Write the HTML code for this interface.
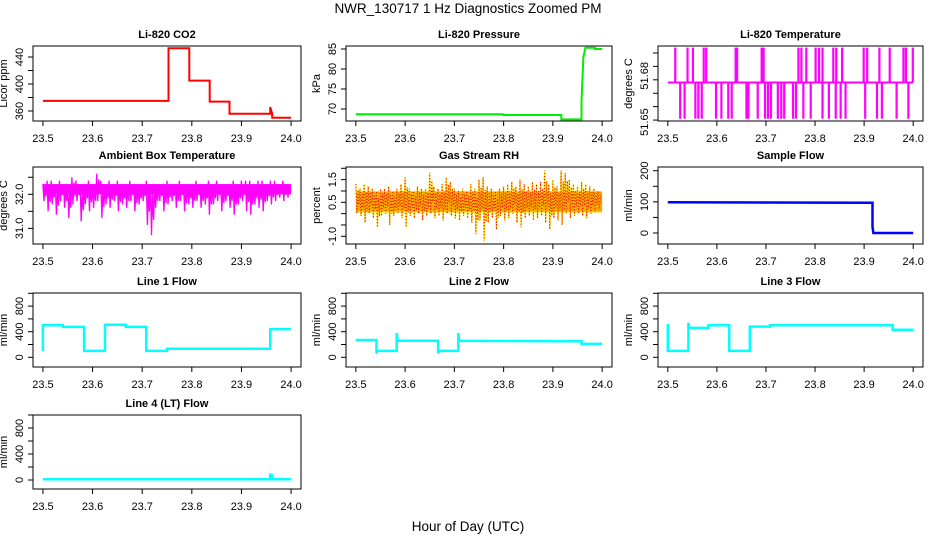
<!DOCTYPE html>
<html><head><meta charset="utf-8">
<style>
html,body{margin:0;padding:0;background:#fff;}
svg{display:block;font-family:"Liberation Sans",Arial,sans-serif;}
</style></head>
<body>
<svg id="chart" width="936" height="540" viewBox="0 0 936 540">
<rect x="0" y="0" width="936" height="540" fill="#fff"/>
<text x="468" y="13" text-anchor="middle" font-size="13.5">NWR_130717  1 Hz Diagnostics Zoomed PM</text>
<text x="468" y="531" text-anchor="middle" font-size="13.5">Hour of Day (UTC)</text>
</svg>
<script>
// ---------- data ----------
const xTicks = [23.5, 23.6, 23.7, 23.8, 23.9, 24.0];
const xTickLabels = ["23.5","23.6","23.7","23.8","23.9","24.0"];

const co2T = [23.5, 23.753, 23.753, 23.795, 23.795, 23.836, 23.836, 23.876, 23.876, 23.958, 23.958, 23.962, 23.962, 24.0];
const co2V = [375, 375, 453, 453, 405, 405, 374, 374, 356, 356, 366, 356, 350, 350];

const presT = [23.5, 23.8, 23.8, 23.917, 23.917, 23.958, 23.958, 23.962, 23.966, 23.985, 23.985, 24.0];
const presV = [68.7, 68.7, 68.5, 68.5, 67.4, 67.4, 72, 83, 85.3, 85.3, 85.0, 85.0];

const ltBase = 51.678;
const ltTop = 51.704;
const ltBot = 51.651;
const ltUpT = [23.515,23.540,23.551,23.573,23.578,23.638,23.641,23.691,23.695,23.766,23.772,23.782,23.801,23.808,23.815,23.837,23.843,23.855,23.899,23.906,23.931,23.952,23.980,23.985,23.999];
const ltDownT = [23.525,23.534,23.556,23.562,23.569,23.598,23.609,23.623,23.630,23.660,23.664,23.683,23.698,23.704,23.710,23.724,23.731,23.737,23.755,23.761,23.776,23.791,23.815,23.828,23.842,23.852,23.862,23.902,23.926,23.936,23.966,23.990];

const ambHi = [32.3,32.4,32.4,32.3,32.4,32.3,32.3,32.5,32.4,32.3,32.3,32.4,32.3,32.6,32.4,32.3,32.4,32.3,32.4,32.3,32.3,32.4,32.3,32.3,32.3,32.4,32.3,32.3,32.3,32.3,32.4,32.3,32.3,32.4,32.3,32.3,32.3,32.4,32.3,32.3,32.4,32.3,32.4,32.3,32.3,32.3,32.4,32.3,32.4,32.4,32.4,32.3,32.4,32.4,32.3,32.4,32.4,32.3,32.4,32.3];
const ambLo = [31.8,31.5,31.7,31.4,31.8,31.6,31.3,31.7,31.8,31.2,31.7,31.5,31.6,31.8,31.3,31.7,31.6,31.8,31.5,31.7,31.6,31.8,31.5,31.7,31.8,31.1,30.8,31.6,31.8,31.5,31.7,31.8,31.6,31.8,31.5,31.7,31.6,31.8,31.6,31.7,31.4,31.7,31.8,31.5,31.8,31.6,31.4,31.7,31.8,31.5,31.4,31.7,31.6,31.5,31.8,31.7,31.8,31.9,31.8,31.9];

const rhHi = [1.3,1.1,1.3,1.2,1.1,1.0,1.1,1.1,1.2,1.0,1.1,1.3,1.6,1.1,1.0,1.2,1.1,1.1,1.8,1.2,1.1,1.3,1.6,1.4,1.1,1.0,1.1,1.0,1.3,1.1,1.5,1.6,1.2,1.1,1.0,1.1,1.2,1.3,1.4,1.2,1.5,1.3,1.2,1.4,1.3,1.4,1.9,1.3,1.5,1.2,1.9,1.8,1.5,1.3,1.2,1.4,1.3,1.2,1.1,1.0];
const rhLo = [0.0,-0.1,-0.4,0.0,-0.2,-0.6,-0.1,0.0,-0.5,-0.1,0.0,-0.2,-0.6,-0.1,-0.2,0.0,-0.3,-0.1,0.0,-0.2,-0.1,-0.3,0.0,-0.1,-0.2,-0.3,-0.1,-0.2,-0.4,-0.9,-0.3,-1.2,-0.4,-0.2,-0.7,-0.1,-0.3,-0.2,0.0,-0.4,-0.6,-0.2,-0.1,-0.3,-0.2,-0.1,-0.4,-0.7,-0.2,-0.3,-0.5,0.0,-0.2,-0.1,0.0,-0.1,-0.2,0.0,0.1,0.2];

const sampT = [23.5, 23.917, 23.917, 23.919, 24.0];
const sampV = [99, 97, 20, 0, 0];

const l1T = [23.5, 23.5, 23.54, 23.54, 23.583, 23.583, 23.625, 23.625, 23.667, 23.667, 23.708, 23.708, 23.75, 23.75, 23.958, 23.958, 24.0];
const l1V = [100, 500, 500, 475, 475, 100, 100, 510, 510, 475, 475, 100, 100, 135, 135, 440, 440];

const l2T = [23.5, 23.542, 23.542, 23.543, 23.583, 23.583, 23.585, 23.667, 23.667, 23.668, 23.708, 23.708, 23.71, 23.958, 23.958, 24.0];
const l2V = [270, 270, 60, 100, 100, 380, 260, 260, 60, 100, 100, 380, 260, 250, 210, 210];

const l3T = [23.5, 23.5, 23.542, 23.542, 23.544, 23.583, 23.583, 23.625, 23.625, 23.667, 23.667, 23.708, 23.708, 23.958, 23.958, 24.0];
const l3V = [520, 100, 100, 540, 460, 460, 500, 500, 100, 100, 480, 480, 500, 500, 430, 430];

const l4T = [23.5, 23.958, 23.958, 23.961, 23.961, 24.0];
const l4V = [10, 10, 80, 80, 10, 10];

// ---------- layout ----------
const NS = "http://www.w3.org/2000/svg";
const svg = document.getElementById("chart");
const cols = [[33,301],[346,612],[658,923]];
const rows = [[46,121],[167,244],[293,367],[415,489]];
const XMIN = 23.48, XMAX = 24.02;

function mk(tag, attrs, parent){
  const e = document.createElementNS(NS, tag);
  for (const k in attrs) e.setAttribute(k, attrs[k]);
  (parent||svg).appendChild(e);
  return e;
}

function panel(name, title, ytitle, col, row, yTop, yBot, yTicks, yLabels){
  const [x0,x1] = cols[col], [y0,y1] = rows[row];
  const g = mk("g", {});
  
  
  const sx = v => x0 + (v - XMIN) / (XMAX - XMIN) * (x1 - x0);
  const sy = v => y0 + (yTop - v) / (yTop - yBot) * (y1 - y0);
  const t = mk("text", {x:(x0+x1)/2, y:y0-8, "text-anchor":"middle", "font-size":"11", "font-weight":"bold"}, g);
  t.textContent = title;
  
  
  const box = mk("rect", {x:x0, y:y0, width:x1-x0, height:y1-y0, fill:"none", stroke:"#000", "stroke-width":"1"}, g);
  
  
  const xa = mk("g", {}, g);
  
  
  mk("line", {x1:sx(xTicks[0]), x2:sx(xTicks[xTicks.length-1]), y1:y1, y2:y1, stroke:"#000"}, xa);
  xTicks.forEach((v,i) => {
    mk("line", {x1:sx(v), x2:sx(v), y1:y1, y2:y1+5, stroke:"#000"}, xa);
    const l = mk("text", {x:sx(v), y:y1+21, "text-anchor":"middle", "font-size":"11"}, xa);
    l.textContent = xTickLabels[i];
    
    
  });
  const ya = mk("g", {}, g);
  
  
  mk("line", {x1:x0, x2:x0, y1:sy(yTicks[0]), y2:sy(yTicks[yTicks.length-1]), stroke:"#000"}, ya);
  yTicks.forEach(v => mk("line", {x1:x0-5, x2:x0, y1:sy(v), y2:sy(v), stroke:"#000"}, ya));
  yLabels.forEach(([v,s,off]) => {
    const yy = sy(v) + (off||0);
    const l = mk("text", {x:x0-10, y:yy, "text-anchor":"middle", "font-size":"11", transform:`rotate(-90 ${x0-10} ${yy})`}, ya);
    l.textContent = s;
    
    
  });
  const yt = mk("text", {x:x0-26, y:(y0+y1)/2, "text-anchor":"middle", "font-size":"11", transform:`rotate(-90 ${x0-26} ${(y0+y1)/2})`}, ya);
  yt.textContent = ytitle;
  
  
  return {g, sx, sy};
}

function line(p, T, V, color, w, name){
  const pts = T.map((t,i) => p.sx(t).toFixed(1) + "," + p.sy(V[i]).toFixed(1)).join(" ");
  const e = mk("polyline", {points:pts, fill:"none", stroke:color, "stroke-width":w}, p.g);
  
  
  return e;
}

function zig(p, hi, lo, color, w, name, dash){
  const n = hi.length, pts = [];
  for (let i=0;i<n;i++){
    const t0 = 23.5 + 0.5*i/n, t1 = 23.5 + 0.5*(i+0.5)/n;
    pts.push(p.sx(t0).toFixed(1)+","+p.sy(hi[i]).toFixed(1));
    pts.push(p.sx(t0+0.5/n*0.25).toFixed(1)+","+p.sy(lo[i]).toFixed(1));
    pts.push(p.sx(t1).toFixed(1)+","+p.sy(hi[i]-(hi[i]-lo[i])*0.2).toFixed(1));
    pts.push(p.sx(t1+0.5/n*0.25).toFixed(1)+","+p.sy(lo[i]+(hi[i]-lo[i])*0.3).toFixed(1));
  }
  const a = {points:pts.join(" "), fill:"none", stroke:color, "stroke-width":w};
  if (dash) a["stroke-dasharray"] = dash;
  const e = mk("polyline", a, p.g);
  
  
}

let p = panel("co2", "Li-820 CO2", "Licor ppm", 0, 0, 456.3, 345.2, [360,380,400,420,440], [[360,"360"],[400,"400"],[440,"440"]]);
line(p, co2T, co2V, "#ff0000", 2, "co2-line");

p = panel("pressure", "Li-820 Pressure", "kPa", 1, 0, 85.75, 67, [70,75,80,85], [[70,"70"],[75,"75"],[80,"80"],[85,"85"]]);
line(p, presT, presV, "#00ee00", 2, "pressure-line");

p = panel("licor-temp", "Li-820 Temperature", "degrees C", 2, 0, 51.7052, 51.6493, [51.65,51.66,51.67,51.68,51.69,51.70], [[51.65,"51.65",2],[51.68,"51.68",-4]]);
line(p, [23.5, 24.0], [ltBase, ltBase], "#ff00ff", 2, "licor-temp-baseline");
ltUpT.forEach(t => {
  const r = mk("rect", {x:p.sx(t)-1, y:p.sy(ltTop), width:2.2, height:p.sy(ltBase)-p.sy(ltTop), fill:"#ff00ff"}, p.g);
  
  
});
ltDownT.forEach(t => {
  const r = mk("rect", {x:p.sx(t)-1, y:p.sy(ltBase), width:2.2, height:p.sy(ltBot)-p.sy(ltBase), fill:"#ff00ff"}, p.g);
  
  
});

p = panel("ambient-temp", "Ambient Box Temperature", "degrees C", 0, 1, 32.801, 30.541, [31.0,31.5,32.0,32.5], [[31.0,"31.0"],[32.0,"32.0"]]);
mk("rect", {x:p.sx(23.5), y:p.sy(32.3), width:p.sx(24)-p.sx(23.5), height:p.sy(32.0)-p.sy(32.3), fill:"#ff00ff"}, p.g);
zig(p, ambHi, ambLo, "#ff00ff", 1.3, "ambient-temp-line");

p = panel("gas-rh", "Gas Stream RH", "percent", 1, 1, 2.057, -1.34, [-1.0,-0.5,0,0.5,1.0,1.5,2.0], [[-1.0,"-1.0"],[0.5,"0.5"],[1.5,"1.5"]]);
mk("rect", {x:p.sx(23.5), y:p.sy(1.0), width:p.sx(24)-p.sx(23.5), height:p.sy(0.05)-p.sy(1.0), fill:"#ffd800"}, p.g);
zig(p, rhHi, rhLo, "#ffee00", 1.3, "gas-rh-line");
mk("rect", {x:p.sx(23.5), y:p.sy(0.95), width:p.sx(24)-p.sx(23.5), height:p.sy(0.1)-p.sy(0.95), fill:"#e05000", opacity:"0.35"}, p.g);
zig(p, rhHi, rhLo, "#ff0000", 1, "gas-rh-points", "1 2");

p = panel("sample-flow", "Sample Flow", "ml/min", 2, 1, 211.9, -35.3, [0,50,100,150,200], [[0,"0"],[100,"100"],[200,"200"]]);
line(p, sampT, sampV, "#0000ff", 2.5, "sample-flow-line");

const flowTicks = [0,200,400,600,800,1000];
const flowLabels = [[0,"0"],[400,"400"],[800,"800"]];
p = panel("line1-flow", "Line 1 Flow", "ml/min", 0, 2, 1004.7, -151.6, flowTicks, flowLabels);
line(p, l1T, l1V, "#00ffff", 2.5, "line1-flow-line");
p = panel("line2-flow", "Line 2 Flow", "ml/min", 1, 2, 1004.7, -151.6, flowTicks, flowLabels);
line(p, l2T, l2V, "#00ffff", 2.5, "line2-flow-line");
p = panel("line3-flow", "Line 3 Flow", "ml/min", 2, 2, 1004.7, -151.6, flowTicks, flowLabels);
line(p, l3T, l3V, "#00ffff", 2.5, "line3-flow-line");
p = panel("line4-flow", "Line 4 (LT) Flow", "ml/min", 0, 3, 1000, -138.5, flowTicks, flowLabels);
line(p, l4T, l4V, "#00ffff", 2.5, "line4-flow-line");
</script>
</body></html>
